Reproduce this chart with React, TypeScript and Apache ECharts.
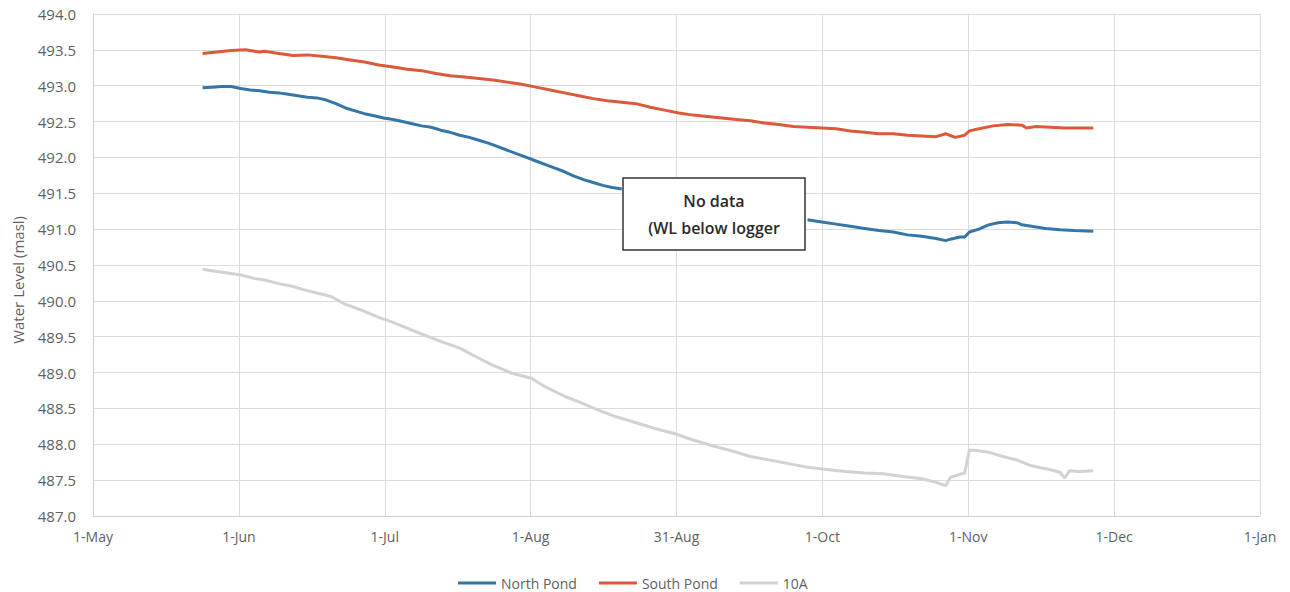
import React, { useEffect, useRef } from 'react';
import * as echarts from 'echarts';

// X axis: days since 1-May, ticks every 245/8 days (Excel-style)
const xTickLabels = ['1-May', '1-Jun', '1-Jul', '1-Aug', '31-Aug', '1-Oct', '1-Nov', '1-Dec', '1-Jan'];
const xSpanDays = 245;
const yMin = 487;
const yMax = 494;
const yStep = 0.5;

const seriesNames = ['North Pond', 'South Pond', '10A'];

const northPondDates = [
  '05-24', '05-26', '05-28', '05-30', '06-01', '06-03', '06-05', '06-07', '06-09', '06-11',
  '06-13', '06-15', '06-17', '06-19', '06-21', '06-23', '06-25', '06-27', '06-29', '07-01',
  '07-03', '07-05', '07-07', '07-09', '07-11', '07-13', '07-15', '07-17', '07-19', '07-21',
  '07-23', '07-25', '07-27', '07-29', '07-31', '08-02', '08-04', '08-06', '08-08', '08-10',
  '08-12', '08-14', '08-16', '08-18', '08-20', '09-05',
  '09-28', '10-01', '10-04', '10-07', '10-10', '10-13', '10-16', '10-19', '10-22', '10-25',
  '10-27', '10-28', '10-30', '10-31', '11-01', '11-03', '11-05', '11-07', '11-09', '11-11',
  '11-12', '11-14', '11-17', '11-20', '11-23', '11-27',
];
const northPondValues: (number | null)[] = [
  492.97, 492.98, 492.99, 492.99, 492.96, 492.94, 492.93, 492.91, 492.90, 492.88,
  492.86, 492.84, 492.83, 492.80, 492.75, 492.69, 492.65, 492.61, 492.58, 492.55,
  492.53, 492.50, 492.47, 492.44, 492.42, 492.38, 492.35, 492.31, 492.28, 492.24,
  492.20, 492.15, 492.10, 492.05, 492.00, 491.95, 491.90, 491.85, 491.80, 491.74,
  491.69, 491.65, 491.61, 491.58, 491.56, null,
  491.13, 491.10, 491.07, 491.04, 491.01, 490.98, 490.96, 490.92, 490.90, 490.87,
  490.84, 490.86, 490.89, 490.89, 490.96, 491.00, 491.06, 491.09, 491.10, 491.09,
  491.06, 491.04, 491.01, 490.99, 490.98, 490.97,
];

const southPondDates = [
  '05-24', '05-27', '05-30', '06-02', '06-05', '06-06', '06-09', '06-12', '06-15', '06-18',
  '06-21', '06-24', '06-27', '06-30', '07-03', '07-06', '07-09', '07-12', '07-15', '07-18',
  '07-21', '07-24', '07-27', '07-30', '08-02', '08-05', '08-08', '08-11', '08-14', '08-17',
  '08-20', '08-23', '08-26', '08-29', '09-01', '09-04', '09-07', '09-10', '09-13', '09-16',
  '09-19', '09-22', '09-25', '09-28', '10-01', '10-04', '10-07', '10-10', '10-13', '10-16',
  '10-19', '10-22', '10-25', '10-27', '10-29', '10-31', '11-01', '11-03', '11-06', '11-09',
  '11-12', '11-13', '11-15', '11-18', '11-21', '11-24', '11-27',
];
const southPondValues = [
  493.45, 493.47, 493.49, 493.50, 493.47, 493.48, 493.45, 493.42, 493.43, 493.41,
  493.39, 493.36, 493.33, 493.29, 493.26, 493.23, 493.21, 493.17, 493.14, 493.12,
  493.10, 493.08, 493.05, 493.02, 492.98, 492.94, 492.90, 492.86, 492.82, 492.79,
  492.77, 492.75, 492.70, 492.66, 492.62, 492.59, 492.57, 492.55, 492.53, 492.51,
  492.48, 492.46, 492.43, 492.42, 492.41, 492.40, 492.37, 492.35, 492.33, 492.33,
  492.31, 492.30, 492.29, 492.33, 492.28, 492.31, 492.37, 492.40, 492.44, 492.46,
  492.45, 492.41, 492.43, 492.42, 492.41, 492.41, 492.41,
];

const tenADates = [
  '05-24', '05-27', '05-30', '06-01', '06-04', '06-06', '06-09', '06-12', '06-14', '06-17',
  '06-20', '06-23', '06-26', '06-30', '07-03', '07-07', '07-10', '07-14', '07-17', '07-21',
  '07-24', '07-28', '08-01', '08-04', '08-08', '08-11', '08-15', '08-19', '08-23', '08-27',
  '08-31', '09-04', '09-08', '09-12', '09-16', '09-20', '09-24', '09-28', '10-02', '10-06',
  '10-10', '10-14', '10-18', '10-22', '10-25', '10-27', '10-28', '10-30', '10-31', '11-01',
  '11-03', '11-05', '11-08', '11-11', '11-14', '11-17', '11-20', '11-21', '11-22', '11-24',
  '11-27',
];
const tenAValues = [
  490.44, 490.41, 490.38, 490.36, 490.31, 490.29, 490.24, 490.20, 490.16, 490.11,
  490.06, 489.95, 489.88, 489.77, 489.70, 489.59, 489.51, 489.41, 489.34, 489.20,
  489.10, 488.99, 488.92, 488.80, 488.67, 488.59, 488.48, 488.38, 488.30, 488.22,
  488.15, 488.06, 487.98, 487.91, 487.83, 487.78, 487.73, 487.68, 487.65, 487.62,
  487.60, 487.59, 487.55, 487.52, 487.47, 487.42, 487.54, 487.58, 487.60, 487.92,
  487.91, 487.89, 487.83, 487.78, 487.70, 487.66, 487.61, 487.53, 487.63, 487.62,
  487.63,
];

const seriesColors = ['#3576a8', '#db5a3c', '#d2d2d2'];
const noteLines = ['No data', '(WL below logger'];

function dayOffset(md: string): number {
  const [m, d] = md.split('-').map(Number);
  return (Date.UTC(2021, m - 1, d) - Date.UTC(2021, 4, 1)) / 86400000;
}

function pairs(dates: string[], values: (number | null)[]) {
  return dates.map((d, i) => [dayOffset(d), values[i]]);
}

export default function App() {
  const ref = useRef<HTMLDivElement>(null);

  useEffect(() => {
    document.body.style.margin = '0';
    if (!ref.current) return;
    const chart = echarts.init(ref.current, null, { renderer: 'svg' });
    const xInterval = xSpanDays / 8;
    const labelColor = '#5f5f5f';
    const font = "'Open Sans', sans-serif";

    chart.setOption({
      animation: false,
      backgroundColor: '#ffffff',
      textStyle: { fontFamily: font },
      grid: { left: 93, right: 30, top: 14, bottom: 76, containLabel: false },
      xAxis: {
        type: 'value',
        min: 0,
        max: xSpanDays,
        interval: xInterval,
        axisLine: { show: true, lineStyle: { color: '#cfcfcf', width: 1 } },
        axisTick: { show: false },
        splitLine: { show: true, lineStyle: { color: '#dcdcdc', width: 1 } },
        axisLabel: {
          color: labelColor,
          fontSize: 14,
          fontFamily: font,
          margin: 13,
          formatter: (v: number) => xTickLabels[Math.round(v / xInterval)] ?? '',
        },
      },
      yAxis: {
        type: 'value',
        min: yMin,
        max: yMax,
        interval: yStep,
        axisLine: { show: true, lineStyle: { color: '#cfcfcf', width: 1 } },
        axisTick: { show: false },
        splitLine: { show: true, lineStyle: { color: '#dcdcdc', width: 1 } },
        axisLabel: {
          color: labelColor,
          fontSize: 15,
          fontFamily: font,
          margin: 17,
          formatter: (v: number) => v.toFixed(1),
        },
      },
      legend: {
        data: seriesNames,
        left: 453,
        top: 571,
        icon: 'rect',
        itemWidth: 38,
        itemHeight: 3,
        itemGap: 22,
        textStyle: { color: labelColor, fontSize: 14, fontFamily: font },
      },
      series: [
        {
          name: seriesNames[0],
          type: 'line',
          showSymbol: false,
          connectNulls: false,
          data: pairs(northPondDates, northPondValues),
          lineStyle: { color: seriesColors[0], width: 3 },
          itemStyle: { color: seriesColors[0] },
          z: 3,
        },
        {
          name: seriesNames[1],
          type: 'line',
          showSymbol: false,
          data: pairs(southPondDates, southPondValues),
          lineStyle: { color: seriesColors[1], width: 3 },
          itemStyle: { color: seriesColors[1] },
          z: 3,
        },
        {
          name: seriesNames[2],
          type: 'line',
          showSymbol: false,
          data: pairs(tenADates, tenAValues),
          lineStyle: { color: seriesColors[2], width: 3 },
          itemStyle: { color: seriesColors[2] },
          z: 2,
        },
      ],
      graphic: [
        {
          type: 'text',
          left: 10,
          top: 216,
          rotation: Math.PI / 2,
          style: {
            text: 'Water Level (masl)',
            fill: labelColor,
            font: `15px ${font}`,
          },
          z: 10,
        },
        {
          type: 'rect',
          z: 100,
          shape: { x: 623, y: 178, width: 182, height: 72 },
          style: { fill: '#ffffff', stroke: '#333333', lineWidth: 1.5 },
        },
        {
          type: 'text',
          z: 101,
          x: 714,
          y: 201,
          style: {
            text: noteLines[0],
            fill: '#2a2a2a',
            font: `600 16px ${font}`,
            align: 'center',
            verticalAlign: 'middle',
          },
        },
        {
          type: 'text',
          z: 101,
          x: 714,
          y: 228,
          style: {
            text: noteLines[1],
            fill: '#2a2a2a',
            font: `600 16px ${font}`,
            align: 'center',
            verticalAlign: 'middle',
          },
        },
      ],
    });

    return () => chart.dispose();
  }, []);

  return <div ref={ref} style={{ width: 1290, height: 592 }} />;
}
